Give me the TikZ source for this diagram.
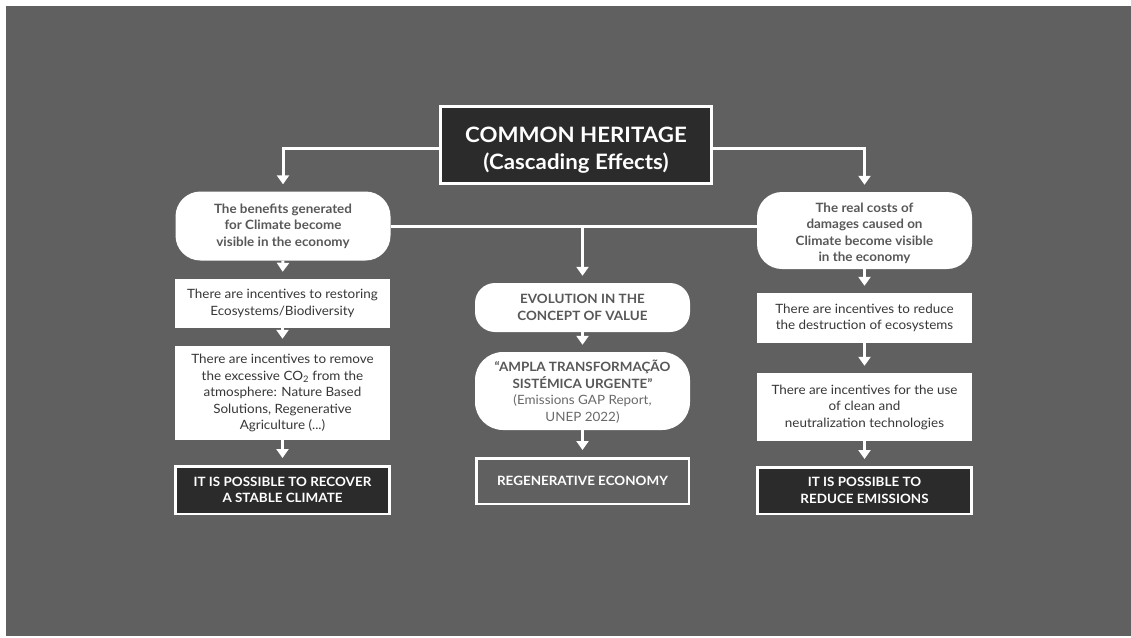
\documentclass[tikz,border=0pt]{standalone}
\usepackage{fontspec}
\setmainfont{Lato}[FakeStretch=1.05]
\usetikzlibrary{arrows.meta,calc}
\definecolor{bg}{RGB}{96,96,96}
\definecolor{dark}{RGB}{42,43,42}
\definecolor{boldgray}{RGB}{88,88,88}
\definecolor{bodytext}{RGB}{55,55,55}
\definecolor{lighttext}{RGB}{105,105,105}
\begin{document}
\begin{tikzpicture}[x=1pt,y=-1pt,
  every node/.style={inner sep=0pt, align=center},
  pillbox/.style={fill=white, rounded corners=25pt, minimum width=215pt,
    text=boldgray, font=\fontsize{12.8}{16.5}\selectfont\bfseries},
  plainbox/.style={fill=white, minimum width=215pt,
    text=bodytext, font=\fontsize{12.8}{16.5}\selectfont},
  resultbox/.style={fill=dark, draw=white, line width=2.5pt,
    minimum width=214pt, text=white,
    font=\fontsize{12.8}{16.5}\selectfont\bfseries},
  headbox/.style={fill=dark, draw=white, line width=3pt,
    minimum width=271pt, minimum height=77pt, text=white,
    font=\fontsize{21.2}{27}\selectfont\bfseries},
  link/.style={draw=white, line width=3pt},
  flow/.style={link, -{Triangle[width=12pt,length=9pt]}, shorten >=7pt}
]
% canvas
\useasboundingbox (0,0) rectangle (1131,637);
\fill[white] (0,0) rectangle (1131,637);
\fill[bg] (6,6) rectangle (1131,636);

% heading (the strut lowers the two lines inside the frame)
\node[headbox] (title) at (576,145)
  {\rule{0pt}{26.5pt}COMMON HERITAGE\\(Cascading Effects)};

% left column
\node[pillbox, minimum height=69pt] (L1) at (283,226)
  {The benefits generated\\for Climate become\\visible in the economy};
\node[plainbox, minimum height=49pt] (L2) at (282.5,303.5)
  {There are incentives to restoring\\Ecosystems/Biodiversity};
\node[plainbox, minimum height=94pt] (L3) at (282.5,393)
  {There are incentives to remove\\the excessive CO\textsubscript{2} from the\\atmosphere: Nature Based\\Solutions, Regenerative\\Agriculture (...)};
\node[resultbox, minimum height=47.5pt] (L4) at (282.5,490)
  {IT IS POSSIBLE TO RECOVER\\A STABLE CLIMATE};

% middle column
\node[pillbox, rounded corners=20pt, minimum height=49pt] (M1) at (582.5,307.5)
  {EVOLUTION IN THE\\CONCEPT OF VALUE};
\node[pillbox, rounded corners=28pt, minimum height=78pt] (M2) at (582.5,391)
  {\rule{0pt}{13pt}“AMPLA TRANSFORMAÇÃO\\SISTÉMICA URGENTE”\\{\normalfont\color{lighttext}(Emissions GAP Report,}\\{\normalfont\color{lighttext}UNEP 2022)}};
\node[resultbox, fill=bg, minimum width=212.5pt, minimum height=45.5pt] (M3) at (582.5,481)
  {REGENERATIVE ECONOMY};

% right column
\node[pillbox, minimum height=77pt] (R1) at (864.5,230.5)
  {\rule{0pt}{15pt}The real costs of\\damages caused on\\Climate become visible\\in the economy};
\node[plainbox, minimum height=50pt] (R2) at (864.5,318)
  {There are incentives to reduce\\the destruction of ecosystems};
\node[plainbox, minimum height=68pt] (R3) at (864.5,407)
  {There are incentives for the use\\of clean and\\neutralization technologies};
\node[resultbox, minimum height=46.5pt] (R4) at (864.5,490.5)
  {IT IS POSSIBLE TO\\REDUCE EMISSIONS};

% connectors from the heading
\draw[flow] ([yshift=-3pt]title.west) -| (L1.north);
\draw[flow] ([yshift=-3pt]title.east) -| (R1.north);

% cross link between the two effects and the central branch
\draw[link] (L1.east) -- (L1.east -| R1.west);
\draw[flow] (L1.east -| M1.north) -- (M1.north);

% vertical cascades
\draw[flow] (L1.south) -- (L2.north);
\draw[flow] (L2.south) -- (L3.north);
\draw[flow] (L3.south) -- (L4.north);
\draw[flow] (M1.south) -- (M2.north);
\draw[flow] (M2.south) -- (M3.north);
\draw[flow] (R1.south) -- (R2.north);
\draw[flow] (R2.south) -- (R3.north);
\draw[flow] (R3.south) -- (R4.north);
\end{tikzpicture}
\end{document}
